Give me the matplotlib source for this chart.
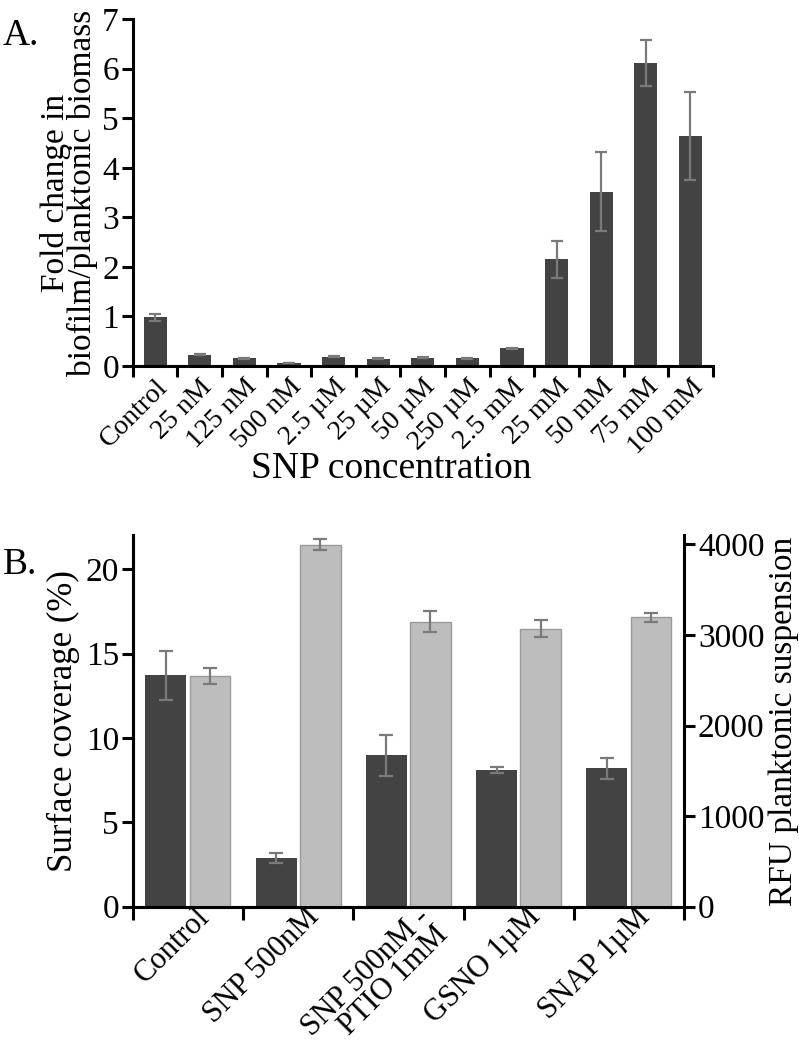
import numpy as np
import matplotlib
matplotlib.use("Agg")
import matplotlib.pyplot as plt
import matplotlib.transforms as mtransforms

plt.rcParams['font.family'] = ['Liberation Serif', 'DejaVu Serif']

# Panel A data
conc_labels = ["Control", "25 nM", "125 nM", "500 nM", "2.5 µM", "25 µM", "50 µM",
               "250 µM", "2.5 mM", "25 mM", "50 mM", "75 mM", "100 mM"]
fold_change = [0.98, 0.23, 0.16, 0.07, 0.19, 0.15, 0.17, 0.16, 0.36, 2.15, 3.52, 6.11, 4.64]
fold_err = [0.07, 0.01, 0.01, 0.0, 0.01, 0.01, 0.01, 0.01, 0.01, 0.38, 0.79, 0.46, 0.88]

# Panel B data
treatments = ["Control", "SNP 500nM", "SNP 500nM -\nPTIO 1mM", "GSNO 1µM", "SNAP 1µM"]
coverage = [13.7, 2.9, 8.96, 8.1, 8.19]
coverage_err = [1.45, 0.3, 1.2, 0.18, 0.6]
rfu = [2548, 3996, 3147, 3070, 3194]
rfu_err = [88, 60, 115, 95, 48]

dark = "#434343"
light = "#bdbdbd"
errc = "#7a7a7a"

fig = plt.figure(figsize=(8, 10.58), dpi=100)

# ---------------- Panel A ----------------
axA = fig.add_axes([0.166, 0.654, 0.725, 0.328])
x = np.arange(len(conc_labels))
axA.bar(x, fold_change, width=0.52, color=dark, zorder=2)
axA.errorbar(x, fold_change, yerr=fold_err, fmt="none", ecolor=errc,
             elinewidth=1.6, capsize=4.5, capthick=1.6, zorder=3)
axA.set_xlim(-0.5, len(conc_labels) - 0.5)
axA.set_ylim(0, 7)
axA.set_yticks(range(0, 8))
axA.set_xticks(x)
axA.set_xticklabels(conc_labels, rotation=45, ha="right", rotation_mode="anchor")
axA.set_xticks(np.arange(-0.5, len(conc_labels)), minor=True)
axA.tick_params(axis="x", which="major", length=0, pad=6, labelsize=20)
axA.tick_params(axis="x", which="minor", length=8, width=2.2, direction="out")
axA.tick_params(axis="y", length=8, width=2.2, labelsize=24, pad=2)
axA.set_ylabel("Fold change in\nbiofilm/planktonic biomass", fontsize=24, labelpad=3,
               linespacing=0.85)
axA.set_xlabel("SNP concentration", fontsize=27, labelpad=0)
axA.xaxis.set_label_coords(0.445, -0.245)
for side in ["top", "right"]:
    axA.spines[side].set_visible(False)
for side in ["left", "bottom"]:
    axA.spines[side].set_linewidth(2.2)
fig.text(0.003, 0.957, "A.", fontsize=27)

# ---------------- Panel B ----------------
axB = fig.add_axes([0.166, 0.143, 0.689, 0.351])
g = np.arange(len(treatments))
off = 0.2
w = 0.37
axB.bar(g - off, coverage, width=w, color=dark, zorder=2)
axB.errorbar(g - off, coverage, yerr=coverage_err, fmt="none", ecolor=errc,
             elinewidth=1.6, capsize=5, capthick=1.6, zorder=3)
axB.set_xlim(-0.5, len(treatments) - 0.5)
axB.set_ylim(0, 22)
axB.set_yticks([0, 5, 10, 15, 20])
axB.set_xticks(g)
axB.set_xticklabels(treatments, rotation=45, ha="right", rotation_mode="anchor",
                    linespacing=0.85)
axB.set_xticks(np.arange(-0.5, len(treatments)), minor=True)
axB.tick_params(axis="x", which="major", length=0, pad=2, labelsize=22)
axB.tick_params(axis="x", which="minor", length=9, width=2.2, direction="out")
axB.tick_params(axis="y", length=8, width=2.2, labelsize=24, pad=2)
axB.set_ylabel("Surface coverage (%)", fontsize=25, labelpad=4)
shift = mtransforms.ScaledTranslation(0.07, 0.07, fig.dpi_scale_trans)
for lab in axB.get_xticklabels():
    lab.set_transform(lab.get_transform() + shift)

axR = axB.twinx()
axR.bar(g + off, rfu, width=w, color=light, edgecolor="#9a9a9a", linewidth=1, zorder=2)
axR.errorbar(g + off, rfu, yerr=rfu_err, fmt="none", ecolor=errc,
             elinewidth=1.6, capsize=5, capthick=1.6, zorder=3)
axR.set_ylim(0, 4100)
axR.set_yticks([0, 1000, 2000, 3000, 4000])
axR.tick_params(axis="y", length=8, width=2.2, labelsize=24, pad=2)
axR.set_ylabel("RFU planktonic suspension", fontsize=24, labelpad=3)

for a in (axB, axR):
    a.spines["top"].set_visible(False)
    for side in ["left", "bottom", "right"]:
        a.spines[side].set_linewidth(2.2)
axB.spines["right"].set_visible(False)
fig.text(0.003, 0.457, "B.", fontsize=27)

fig.savefig("out.png", dpi=100)
